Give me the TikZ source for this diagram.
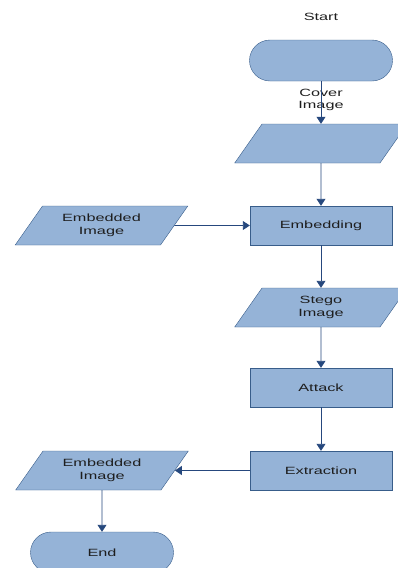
\documentclass[tikz,border=0pt]{standalone}
\usepackage{fontspec}
\setmainfont{Liberation Sans}
\newfontfamily\flowfont[FakeStretch=1.55]{Liberation Sans}
\usetikzlibrary{shapes.geometric,arrows.meta}
\definecolor{boxfill}{RGB}{149,179,215}
\definecolor{boxline}{RGB}{56,93,138}
\definecolor{arrowline}{RGB}{38,72,125}
\definecolor{labeltext}{RGB}{30,30,30}
\newcommand*{\iobox}[1]{\parbox[c][39pt][c]{118pt}{\centering\leavevmode #1}}

\begin{document}
\begin{tikzpicture}
        [x=1pt,y=-1pt,
          every node/.style={font=\flowfont\fontsize{10.5}{12.7}\selectfont,text=labeltext,align=center},
          procdecorate/.style={shape=rectangle,draw=boxline,fill=boxfill,
            minimum width=142pt,minimum height=39pt,inner sep=0pt},
          iodecorate/.style={shape=trapezium,trapezium left angle=55,
            trapezium right angle=125,draw=boxline,fill=boxfill,inner sep=0pt},
          termdecorate/.style={shape=rectangle,rounded corners=20.5pt,draw=boxline,
            fill=boxfill,minimum width=143pt,minimum height=41pt,inner sep=0pt},
          linedecorate/.style={-{Triangle[width=9pt,length=7pt]},draw=arrowline,
            line width=0.9pt}]
        \useasboundingbox (0,0) rectangle (397,568);
        %% terminals
        \node (start) at (321,60.5) [termdecorate] {};
        \node (end) at (102,552.5) [termdecorate] {End};
        %% process boxes
        \foreach \nodename/\x/\y/\txt in {embedding/321/225.5/Embedding,
          attack/321/387.5/Attack, extraction/321/470.5/Extraction}
        {
          \node (\nodename) at (\x,\y) [procdecorate] {\txt};
        }
        %% data (input / output)
        \foreach \nodename/\x/\y/\txt in {cover/321/143.5/{},
          embedin/101.5/225.5/{Embedded\\Image}, stego/321/307.5/{Stego\\Image},
          embedout/102/470.5/{Embedded\\Image}}
        {
          \node (\nodename) at (\x,\y) [iodecorate] {\iobox{\txt}};
        }
        %% free labels
        \node (startlabel) at (321,17) {Start};
        \node (coverlabel) at (321,100) {Cover\\Image};
        %% connectors
        \path
        \foreach \startnode/\endnode in {start/cover, cover/embedding,
          embedin/embedding, embedding/stego, stego/attack, attack/extraction,
          extraction/embedout, embedout/end}
        {
          (\startnode) edge[linedecorate] (\endnode)
        };
\end{tikzpicture}
\end{document}
